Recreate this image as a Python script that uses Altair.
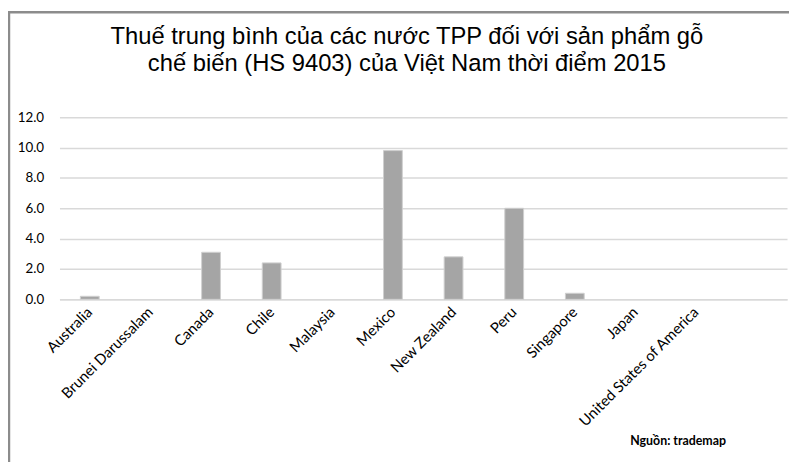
import altair as alt
import pandas as pd

countries = ["Australia", "Brunei Darussalam", "Canada", "Chile", "Malaysia", "Mexico",
             "New Zealand", "Peru", "Singapore", "Japan", "United States of America"]
values = [0.2, 0.0, 3.1, 2.4, 0.0, 9.8, 2.8, 6.0, 0.4, 0.0, 0.0]
y_ticks = [0, 2, 4, 6, 8, 10, 12]
title_lines = ["Thuế trung bình của các nước TPP đối với sản phẩm gỗ",
               "chế biến (HS 9403) của Việt Nam thời điểm 2015"]
source_note = "Nguồn: trademap"

df = pd.DataFrame({"country": countries, "value": values})
domain = countries + [""]

LABEL_FONT = "Lato"

bars = alt.Chart(df).mark_bar(color="#a5a5a5", stroke="#cfcfcf", strokeWidth=1).encode(
    x=alt.X("country:N", sort=domain,
            scale=alt.Scale(domain=domain, paddingInner=0.69, paddingOuter=0.345),
            axis=alt.Axis(title=None, labelAngle=-45, labelAlign="right", labelBaseline="middle",
                          labelPadding=10, ticks=False, domain=True, domainColor="#d9d9d9",
                          domainWidth=1.5, labelFontSize=15, labelFont=LABEL_FONT,
                          labelColor="#000000", grid=False, labelOverlap=False)),
    y=alt.Y("value:Q", scale=alt.Scale(domain=[0, 12], nice=False),
            axis=alt.Axis(title=None, values=y_ticks, format=".1f", ticks=False, domain=False,
                          gridColor="#d9d9d9", gridWidth=1.5, labelFontSize=13.5,
                          labelFont=LABEL_FONT, labelColor="#000000", labelPadding=16)),
    strokeOpacity=alt.condition(alt.datum.value > 0, alt.value(1), alt.value(0)),
    fillOpacity=alt.condition(alt.datum.value > 0, alt.value(1), alt.value(0)),
)

frame_left = alt.Chart(pd.DataFrame({"a": [0]})).mark_rule(color="#8c8c8c", strokeWidth=2.5).encode(
    x=alt.value(-51), y=alt.value(-107), y2=alt.value(400))
frame_top = alt.Chart(pd.DataFrame({"a": [0]})).mark_rule(color="#8c8c8c", strokeWidth=2.5).encode(
    x=alt.value(-52), x2=alt.value(760), y=alt.value(-106))

title_df = pd.DataFrame({"t": title_lines, "line": [0, 1]})
title_style = dict(font="Liberation Sans", fontSize=24, color="#000000", align="center",
                   baseline="alphabetic")
title1 = alt.Chart(title_df).transform_filter(alt.datum.line == 0).mark_text(**title_style).encode(
    text="t:N", x=alt.value(351), y=alt.value(-74))
title2 = alt.Chart(title_df).transform_filter(alt.datum.line == 1).mark_text(**title_style).encode(
    text="t:N", x=alt.value(351), y=alt.value(-47))

note = alt.Chart(pd.DataFrame({"t": [source_note]})).mark_text(
    font=LABEL_FONT, fontSize=12.5, fontWeight="bold", color="#000000", align="center",
    baseline="alphabetic").encode(text="t:N", x=alt.value(625), y=alt.value(331))

chart = alt.layer(frame_left, frame_top, bars, title1, title2, note).properties(
    width=735, height=184,
    autosize=alt.AutoSizeParams(type="none"),
    padding={"left": 52, "top": 108, "right": 2, "bottom": 162},
).configure_view(stroke=None)

chart.save("out.html", embed_options={"renderer": "svg", "actions": False})
